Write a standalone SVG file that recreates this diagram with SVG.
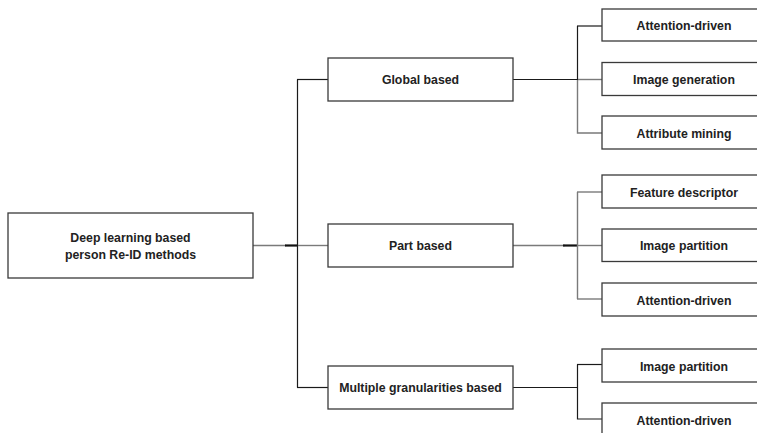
<svg xmlns="http://www.w3.org/2000/svg" width="757" height="433" viewBox="0 0 757 433">
<style>
rect{fill:#fff;stroke:#3a3a3a;stroke-width:1.3}
text{font-family:"Liberation Sans",Arial,sans-serif;font-weight:bold;font-size:12.3px;fill:#222;text-anchor:middle}
.k{fill:none;stroke:#1a1a1a;stroke-width:1.2}
.g{fill:none;stroke:#7a7a7a;stroke-width:1.4}
.t{fill:none;stroke:#111;stroke-width:2.2}
</style>
<rect x="0" y="0" width="757" height="433" style="fill:#fff;stroke:none"/>
<g id="connectors">
<path class="g" d="M253 245.5H286"/>
<path class="t" d="M285 245.5H297"/>
<path class="k" d="M297.5 79.5V387.5"/>
<path class="k" d="M297 79.5H328"/>
<path class="g" d="M298 245.5H328"/>
<path class="k" d="M297 387.5H328"/>
<path class="k" d="M513 79.5H577"/>
<path class="k" d="M577.5 26V80"/>
<path class="g" d="M577.5 80V133H602"/>
<path class="k" d="M577 26H602"/>
<path class="g" d="M578 79.5H602"/>
<path class="g" d="M513 245.5H565"/>
<path class="t" d="M563 245.5H577"/>
<path class="g" d="M577.5 192V299"/>
<path class="g" d="M577 192H602"/>
<path class="g" d="M578 245.5H602"/>
<path class="g" d="M577 299H602"/>
<path class="k" d="M513 387.5H577"/>
<path class="k" d="M577.5 364.5V419H602"/>
<path class="k" d="M577 364.5H602"/>
</g>
<g id="root"><rect x="8" y="213" width="245" height="65"/><text x="130.5" y="242">Deep learning based</text><text x="130.5" y="258.5">person Re-ID methods</text></g>
<g id="global"><rect x="328" y="58" width="185" height="43"/><text x="420.5" y="84">Global based</text></g>
<g id="part"><rect x="328" y="224" width="185" height="43"/><text x="420.5" y="250">Part based</text></g>
<g id="multiple"><rect x="328" y="366" width="185" height="43"/><text x="420.5" y="392">Multiple granularities based</text></g>
<g id="g1"><rect x="602" y="9" width="170" height="32"/><text x="684" y="29.5">Attention-driven</text></g>
<g id="g2"><rect x="602" y="62.5" width="170" height="33"/><text x="684" y="83.5">Image generation</text></g>
<g id="g3"><rect x="602" y="116" width="170" height="33"/><text x="684" y="137.5">Attribute mining</text></g>
<g id="p1"><rect x="602" y="175" width="170" height="33"/><text x="684" y="196.5">Feature descriptor</text></g>
<g id="p2"><rect x="602" y="229" width="170" height="32.5"/><text x="684" y="250">Image partition</text></g>
<g id="p3"><rect x="602" y="283" width="170" height="33"/><text x="684" y="304.5">Attention-driven</text></g>
<g id="m1"><rect x="602" y="349" width="170" height="33"/><text x="684" y="370.5">Image partition</text></g>
<g id="m2"><rect x="602" y="403" width="170" height="40"/><text x="684" y="424.5">Attention-driven</text></g>
</svg>
